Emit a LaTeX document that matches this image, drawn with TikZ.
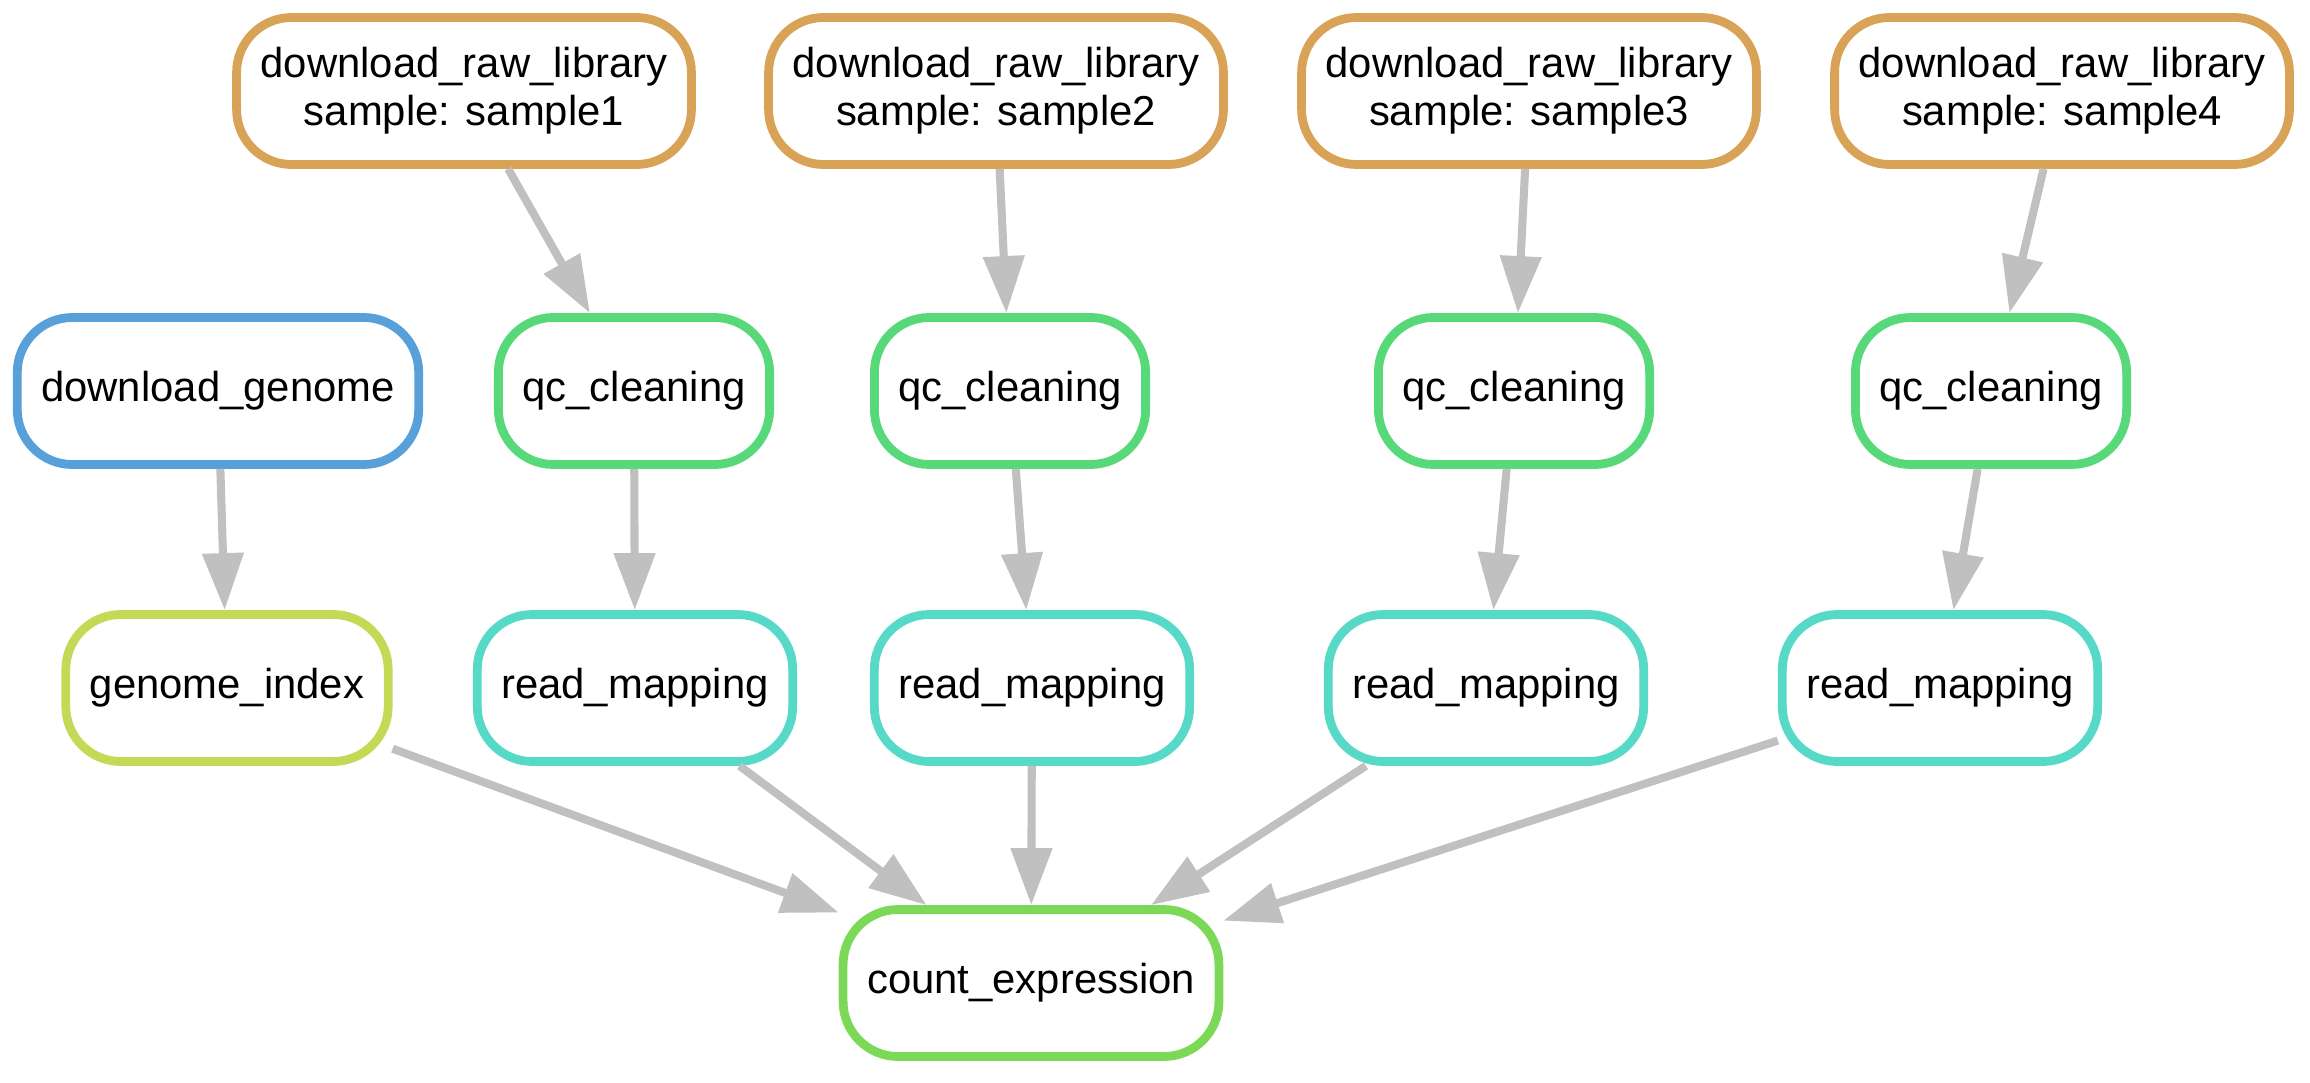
\documentclass[tikz,border=0pt]{standalone}
\usepackage{fontspec}
\setmainfont{Liberation Sans}
\usetikzlibrary{arrows.meta}
\definecolor{libcol}{HTML}{D9A357}
\definecolor{genomecol}{HTML}{57A0D9}
\definecolor{qccol}{HTML}{57D97A}
\definecolor{indexcol}{HTML}{C6D957}
\definecolor{mapcol}{HTML}{57D9C7}
\definecolor{countcol}{HTML}{7BD957}
\definecolor{flowgray}{HTML}{C0C0C0}
\begin{document}
\begin{tikzpicture}[every node/.style={font=\fontsize{11.9}{13.6}\selectfont},
  rulebox/.style={draw, line width=2.5pt, rounded corners=0.55cm, fill=white,
    minimum height=1.47cm, inner xsep=0.24cm, align=center},
  flow/.style={draw=flowgray, line width=2.3pt, -{Triangle[length=0.57cm,width=0.4cm]}}]
  \useasboundingbox (0,0) rectangle (23.1,-10.83);

  % raw libraries
  \node[rulebox, draw=libcol] (raw1) at (4.64,-0.91) {download\_raw\_library\\sample: sample1};
  \node[rulebox, draw=libcol] (raw2) at (9.96,-0.91) {download\_raw\_library\\sample: sample2};
  \node[rulebox, draw=libcol] (raw3) at (15.29,-0.91) {download\_raw\_library\\sample: sample3};
  \node[rulebox, draw=libcol] (raw4) at (20.62,-0.91) {download\_raw\_library\\sample: sample4};

  % genome and cleaning
  \node[rulebox, draw=genomecol] (genome) at (2.18,-3.91) {download\_genome};
  \node[rulebox, draw=qccol] (qc1) at (6.34,-3.91) {qc\_cleaning};
  \node[rulebox, draw=qccol] (qc2) at (10.10,-3.91) {qc\_cleaning};
  \node[rulebox, draw=qccol] (qc3) at (15.14,-3.91) {qc\_cleaning};
  \node[rulebox, draw=qccol] (qc4) at (19.91,-3.91) {qc\_cleaning};

  % index and mapping
  \node[rulebox, draw=indexcol] (index) at (2.27,-6.88) {genome\_index};
  \node[rulebox, draw=mapcol] (map1) at (6.35,-6.88) {read\_mapping};
  \node[rulebox, draw=mapcol] (map2) at (10.32,-6.88) {read\_mapping};
  \node[rulebox, draw=mapcol] (map3) at (14.86,-6.88) {read\_mapping};
  \node[rulebox, draw=mapcol] (map4) at (19.40,-6.88) {read\_mapping};

  % counting
  \node[rulebox, draw=countcol] (count) at (10.31,-9.83) {count\_expression};

  % edges
  \foreach \i in {1,...,4} {
    \draw[flow] (raw\i) -- (qc\i);
    \draw[flow] (qc\i) -- (map\i);
    \draw[flow] (map\i) -- (count);
  }
  \draw[flow] (genome) -- (index);
  \draw[flow] (index) -- (count);
\end{tikzpicture}
\end{document}
